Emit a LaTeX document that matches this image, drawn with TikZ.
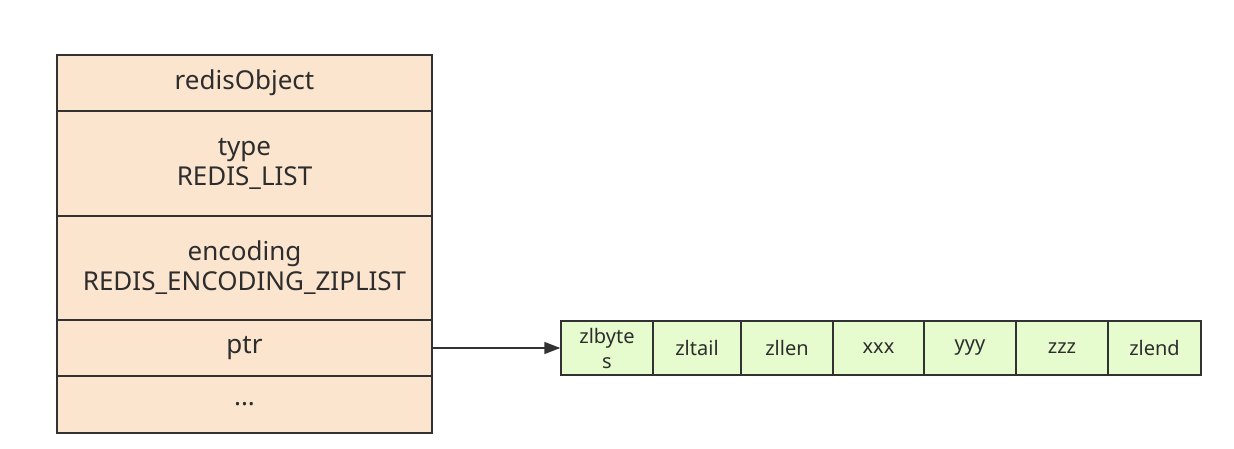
\documentclass[tikz,border=0pt]{standalone}
\usepackage{fontspec}
\setmainfont{Noto Sans}
\usetikzlibrary{arrows.meta}
\definecolor{peach}{RGB}{251,229,207}
\definecolor{lgreen}{RGB}{231,252,206}
\definecolor{edge}{RGB}{50,50,50}
\definecolor{txt}{RGB}{45,45,45}
\tikzset{
  cell/.style={draw=edge, line width=1.6pt, fill=peach, text=txt, inner sep=0pt, align=center,
    minimum width=375pt, font=\fontsize{26}{30}\selectfont},
  zcell/.style={draw=edge, line width=1.4pt, fill=lgreen, text=txt, inner sep=0pt, align=center,
    minimum height=54pt, font=\fontsize{20}{25}\selectfont},
  link/.style={draw=edge, line width=1.4pt, -{Triangle[length=16pt,width=12pt]}}
}
\begin{document}
\begin{tikzpicture}[x=1pt,y=-1pt]
\useasboundingbox (0,0) rectangle (1234,449);
\node[cell, minimum height=56pt] (obj) at (244.5,83) {redisObject};
\node[cell, minimum height=105pt] (type) at (244.5,163.5) {type\\REDIS\_LIST};
\node[cell, minimum height=104pt] (enc) at (244.5,268) {encoding\\REDIS\_ENCODING\_ZIPLIST};
\node[cell, minimum height=56pt] (ptr) at (244.5,348) {ptr};
\node[cell, minimum height=57pt] (dots) at (244.5,404.5) {...};

\node[zcell, minimum width=92pt] (z1) at (607,348) {zlbyte\\s};
\node[zcell, minimum width=88pt] (z2) at (697,348) {zltail};
\node[zcell, minimum width=92pt] (z3) at (787,348) {zllen};
\node[zcell, minimum width=91pt] (z4) at (878.5,348) {xxx};
\node[zcell, minimum width=92pt] (z5) at (970,348) {yyy};
\node[zcell, minimum width=92pt] (z6) at (1062,348) {zzz};
\node[zcell, minimum width=93pt] (z7) at (1154.5,348) {zlend};

\draw[link] (ptr.east) -- (z1.west);
\end{tikzpicture}
\end{document}
